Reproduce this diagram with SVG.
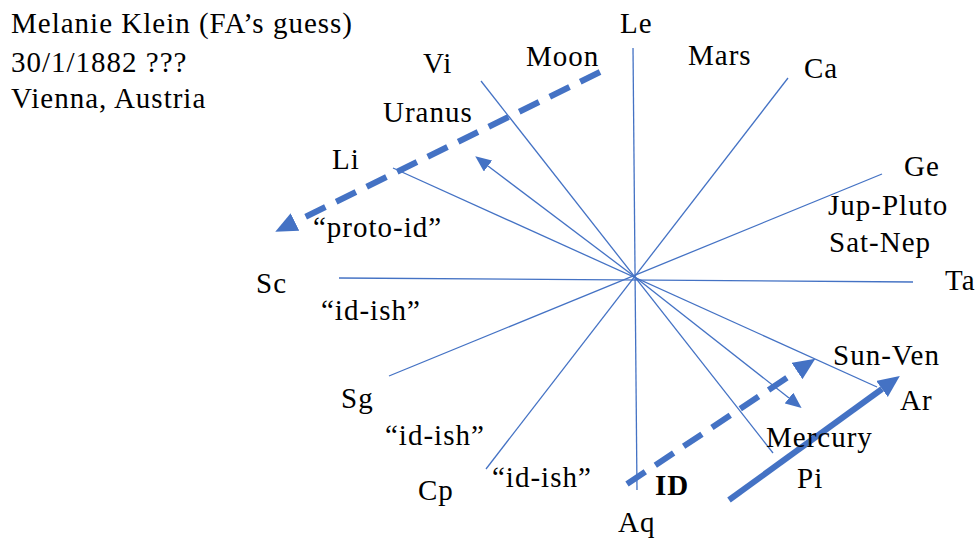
<svg xmlns="http://www.w3.org/2000/svg" width="978" height="543" viewBox="0 0 978 543">
<defs>
<style>
text{font-family:'Liberation Serif','Times New Roman',serif;font-size:29px;letter-spacing:1px;fill:#000}
.ray{stroke:#4472C4;stroke-width:1.3;fill:none}
.thick{stroke:#4472C4;stroke-width:6;fill:none}
.dash{stroke-dasharray:22 12}
</style>
<marker id="big" markerUnits="userSpaceOnUse" markerWidth="22" markerHeight="20" refX="0" refY="8.5" orient="auto" viewBox="0 0 19 17"><path d="M0,0 L19,8.5 L0,17 z" fill="#4472C4"/></marker>
<marker id="small" markerUnits="userSpaceOnUse" markerWidth="16" markerHeight="14" refX="0" refY="6" orient="auto" viewBox="0 0 14 12"><path d="M0,0 L14,6 L0,12 z" fill="#4472C4"/></marker>
</defs>
<rect width="978" height="543" fill="#fff"/>
<g id="title">
<text x="11" y="33">Melanie Klein (FA’s guess)</text>
<text x="11" y="72">30/1/1882 ???</text>
<text x="11" y="108">Vienna, Austria</text>
</g>
<g id="connectors">
<line class="ray" x1="633" y1="48" x2="637" y2="490"/>
<line class="ray" x1="788" y1="78" x2="486" y2="469"/>
<line class="ray" x1="882" y1="174" x2="389" y2="376"/>
<line class="ray" x1="913" y1="282" x2="339" y2="278"/>
<line class="ray" x1="481" y1="81" x2="773" y2="453"/>
<line class="ray" x1="393" y1="168" x2="877" y2="387"/>
<line class="ray" x1="635" y1="277" x2="488" y2="166" marker-end="url(#small)"/>
<line class="ray" x1="635" y1="277" x2="789" y2="398" marker-end="url(#small)"/>
<line class="thick dash" x1="600" y1="72" x2="295" y2="222" marker-end="url(#big)"/>
<line class="thick dash" x1="627" y1="484" x2="797" y2="371" marker-end="url(#big)"/>
<line class="thick" x1="729" y1="500" x2="882" y2="389" marker-end="url(#big)"/>
</g>
<g id="n-le"><text x="620" y="33">Le</text></g>
<g id="n-mars"><text x="688" y="65">Mars</text></g>
<g id="n-ca"><text x="804" y="78">Ca</text></g>
<g id="n-ge"><text x="904" y="176">Ge</text></g>
<g id="n-jup"><text x="828" y="215">Jup-Pluto</text></g>
<g id="n-sat"><text x="829" y="252">Sat-Nep</text></g>
<g id="n-ta"><text x="945" y="290">Ta</text></g>
<g id="n-vi"><text x="423" y="73">Vi</text></g>
<g id="n-moon"><text x="526" y="66">Moon</text></g>
<g id="n-uranus"><text x="383" y="122">Uranus</text></g>
<g id="n-li"><text x="332" y="169">Li</text></g>
<g id="n-proto"><text x="313" y="237">“proto-id”</text></g>
<g id="n-sc"><text x="256" y="293">Sc</text></g>
<g id="n-idish1"><text x="321" y="320">“id-ish”</text></g>
<g id="n-sg"><text x="341" y="408">Sg</text></g>
<g id="n-idish2"><text x="385" y="445">“id-ish”</text></g>
<g id="n-cp"><text x="418" y="500">Cp</text></g>
<g id="n-idish3"><text x="492" y="487">“id-ish”</text></g>
<g id="n-aq"><text x="618" y="532">Aq</text></g>
<g id="n-id"><text x="655" y="495" font-weight="bold">ID</text></g>
<g id="n-sunven"><text x="833" y="365">Sun-Ven</text></g>
<g id="n-ar"><text x="900" y="410">Ar</text></g>
<g id="n-mercury"><text x="766" y="447">Mercury</text></g>
<g id="n-pi"><text x="797" y="488">Pi</text></g>
</svg>
